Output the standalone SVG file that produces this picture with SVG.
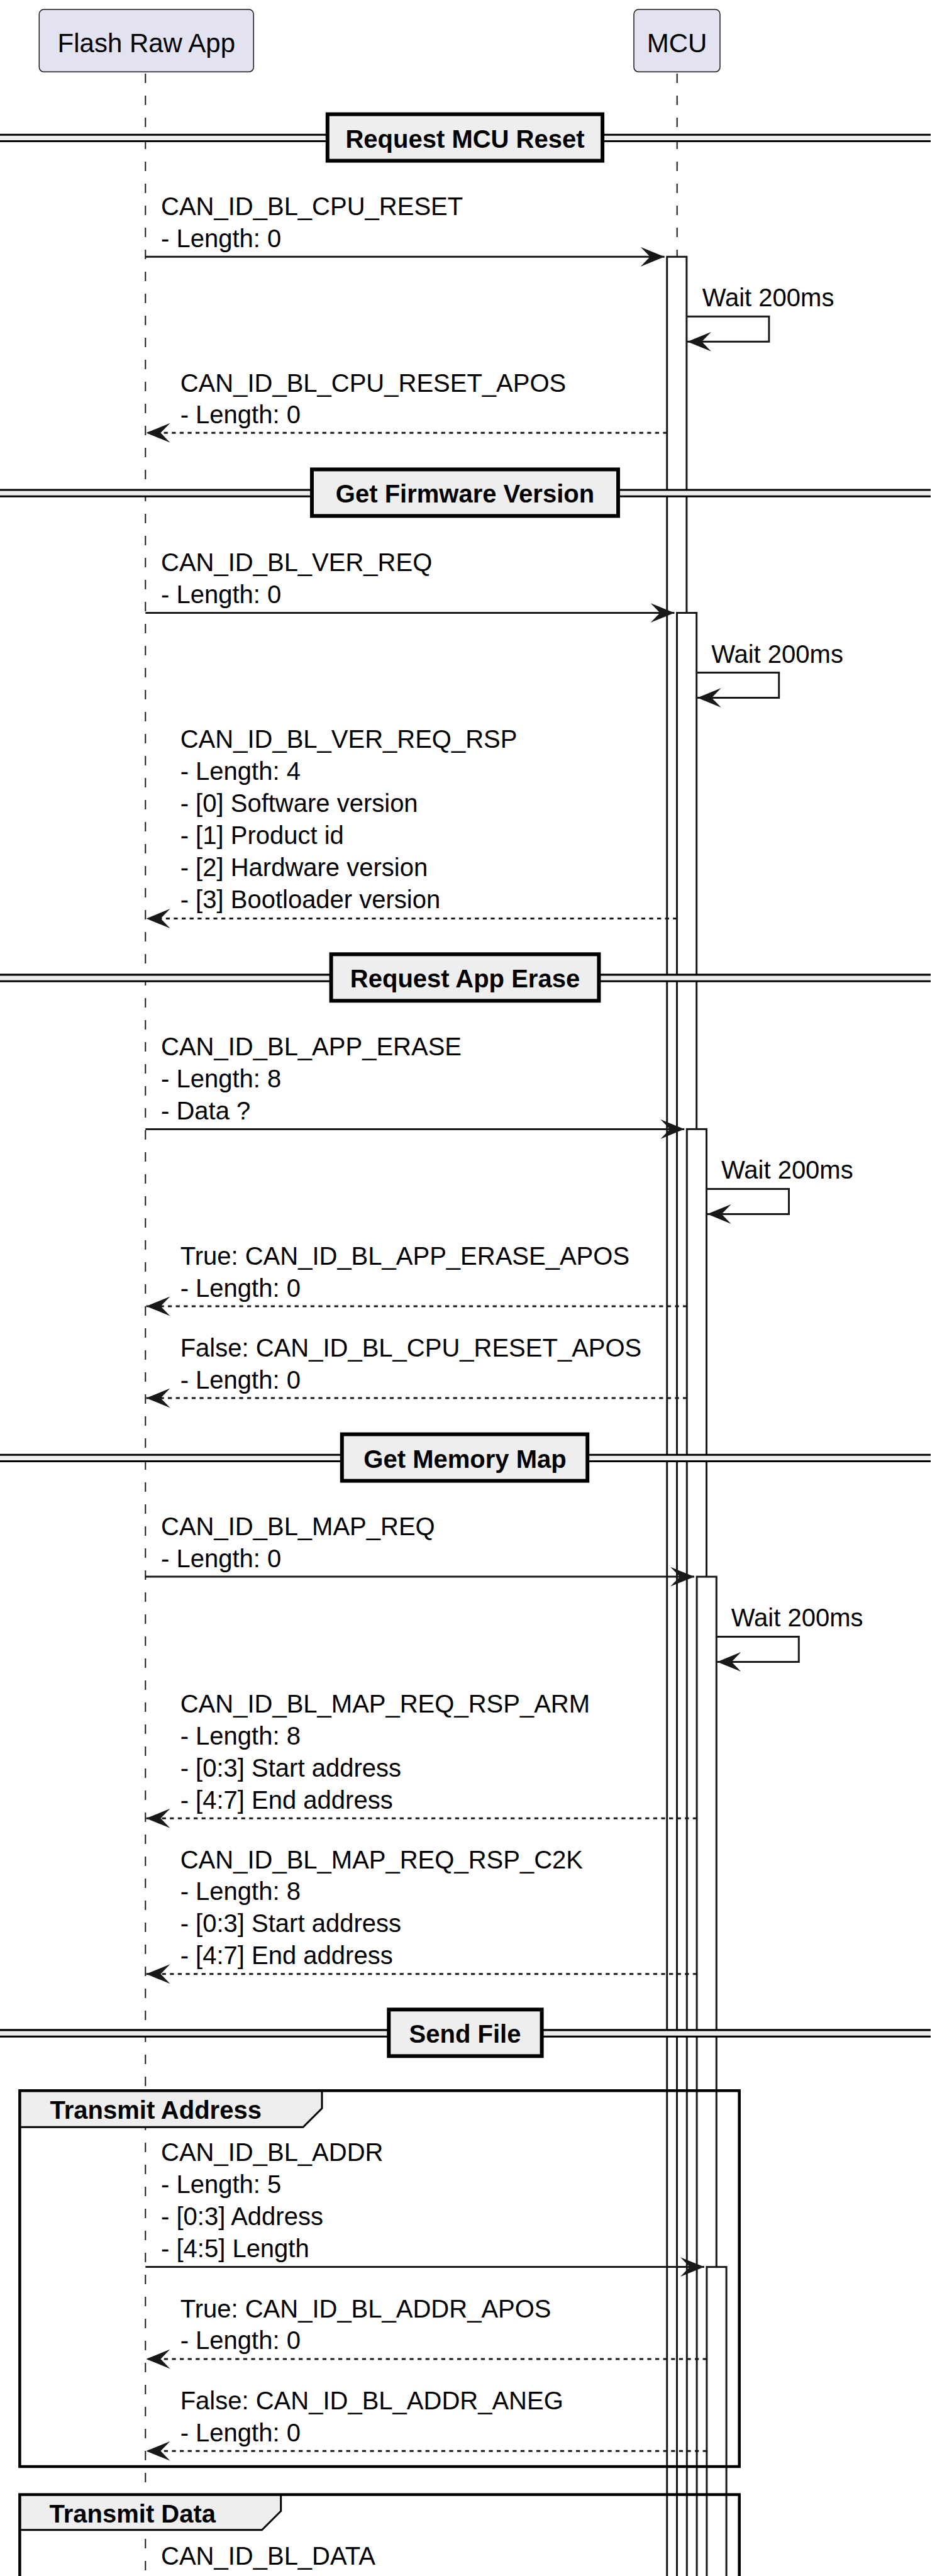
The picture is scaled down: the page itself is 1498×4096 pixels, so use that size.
<svg xmlns="http://www.w3.org/2000/svg" width="1498" height="4096" viewBox="0 0 1498 4096">
<style>
text{font-family:"Liberation Sans",Arial,sans-serif;fill:#000000}
.pt{font-size:42px}
.msg{font-size:40px}
.hd{font-size:40px;font-weight:bold}
.life{stroke:#181818;stroke-width:2;stroke-dasharray:15 20;fill:none}
.part{fill:#E2E2F0;stroke:#181818;stroke-width:1.5}
.act{fill:#FFFFFF;stroke:#181818;stroke-width:3}
.band{fill:#EEEEEE;stroke:none}
.dl{stroke:#000000;stroke-width:3.1}
.dbox{fill:#EEEEEE;stroke:#000000;stroke-width:6}
.frame{fill:none;stroke:#000000;stroke-width:4.5}
.tab{fill:#EEEEEE;stroke:#000000;stroke-width:3}
.sync{stroke:#181818;stroke-width:3;fill:none;marker-end:url(#ah)}
.ret{stroke:#181818;stroke-width:3;fill:none;stroke-dasharray:6.3 6.3;marker-end:url(#ah)}
</style>
<defs>
<marker id="ah" viewBox="0 0 38 31" refX="38" refY="15.5" markerWidth="38" markerHeight="31" markerUnits="userSpaceOnUse" orient="auto">
<path d="M38,15.5 L0,0 L15,15.5 L0,31 Z" fill="#181818"/>
</marker>
</defs>
<rect x="0" y="0" width="1498" height="4096" fill="#FFFFFF"/>

<g id="lifelines">
<line class="life" x1="231.3" y1="117" x2="231.3" y2="4096"/>
<line class="life" x1="1076.7" y1="117" x2="1076.7" y2="4096"/>
</g>

<g id="participant-flash">
<rect class="part" x="62.3" y="15" width="341" height="99.3" rx="7.5"/>
<text class="pt" x="232.8" y="82.7" text-anchor="middle">Flash Raw App</text>
</g>
<g id="participant-mcu">
<rect class="part" x="1008" y="15" width="137" height="99.3" rx="7.5"/>
<text class="pt" x="1076.5" y="82.7" text-anchor="middle">MCU</text>
</g>

<g id="activations">
<rect class="act" x="1060.7" y="408.3" width="31.2" height="3720"/>
<rect class="act" x="1076.5" y="974.5" width="31.2" height="3160"/>
<rect class="act" x="1092.3" y="1795.4" width="31.2" height="2340"/>
<rect class="act" x="1108.1" y="2507.1" width="31.2" height="1630"/>
<rect class="act" x="1123.9" y="3604.6" width="31.2" height="530"/>
</g>

<g id="divider-reset">
<rect class="band" x="0" y="214.2" width="1480" height="10.3"/>
<line class="dl" x1="0" y1="214.2" x2="1480" y2="214.2"/>
<line class="dl" x1="0" y1="224.5" x2="1480" y2="224.5"/>
<rect class="dbox" x="520.8" y="181.6" width="437.3" height="74"/>
<text class="hd" x="739.5" y="234.6" text-anchor="middle">Request MCU Reset</text>
</g>
<g id="divider-version">
<rect class="band" x="0" y="779" width="1480" height="10.3"/>
<line class="dl" x1="0" y1="779" x2="1480" y2="779"/>
<line class="dl" x1="0" y1="789.3" x2="1480" y2="789.3"/>
<rect class="dbox" x="496" y="746.4" width="487" height="74"/>
<text class="hd" x="739.5" y="799.4" text-anchor="middle">Get Firmware Version</text>
</g>
<g id="divider-erase">
<rect class="band" x="0" y="1549.9" width="1480" height="10.3"/>
<line class="dl" x1="0" y1="1549.9" x2="1480" y2="1549.9"/>
<line class="dl" x1="0" y1="1560.2" x2="1480" y2="1560.2"/>
<rect class="dbox" x="526.6" y="1517.3" width="425.8" height="74"/>
<text class="hd" x="739.5" y="1570.3" text-anchor="middle">Request App Erase</text>
</g>
<g id="divider-map">
<rect class="band" x="0" y="2313.2" width="1480" height="10.3"/>
<line class="dl" x1="0" y1="2313.2" x2="1480" y2="2313.2"/>
<line class="dl" x1="0" y1="2323.5" x2="1480" y2="2323.5"/>
<rect class="dbox" x="543.8" y="2280.6" width="390.4" height="74"/>
<text class="hd" x="739.5" y="2333.6" text-anchor="middle">Get Memory Map</text>
</g>
<g id="divider-send">
<rect class="band" x="0" y="3227.9" width="1480" height="10.3"/>
<line class="dl" x1="0" y1="3227.9" x2="1480" y2="3227.9"/>
<line class="dl" x1="0" y1="3238.2" x2="1480" y2="3238.2"/>
<rect class="dbox" x="618.3" y="3195.3" width="243.3" height="74"/>
<text class="hd" x="739.5" y="3248.3" text-anchor="middle">Send File</text>
</g>

<g id="group-transmit-address">
<path class="tab" d="M31.4,3324.3 H512 V3352.3 L482,3382.3 H31.4 Z"/>
<rect class="frame" x="31.4" y="3324.3" width="1144.3" height="597.7"/>
<text class="hd" x="79.5" y="3369">Transmit Address</text>
</g>
<g id="group-transmit-data">
<path class="tab" d="M31.4,3966.5 H446.7 V3992.7 L416.5,4022.7 H31.4 Z"/>
<rect class="frame" x="31.4" y="3966.5" width="1144.3" height="200"/>
<text class="hd" x="78.5" y="4011">Transmit Data</text>
</g>

<g id="connectors">
<!-- Request MCU Reset -->
<line class="sync" x1="231.3" y1="408.3" x2="1056.7" y2="408.3"/>
<text class="msg" x="256" y="341.7">CAN_ID_BL_CPU_RESET</text>
<text class="msg" x="256" y="392.7">- Length: 0</text>
<path class="sync" d="M1091.9,503.3 H1222.9 V543.3 H1093"/>
<text class="msg" x="1116.7" y="487.3">Wait 200ms</text>
<line class="ret" x1="1060.7" y1="688.3" x2="232.5" y2="688.3"/>
<text class="msg" x="286.7" y="622.7">CAN_ID_BL_CPU_RESET_APOS</text>
<text class="msg" x="286.7" y="672.7">- Length: 0</text>

<!-- Get Firmware Version -->
<line class="sync" x1="231.3" y1="974.5" x2="1072.5" y2="974.5"/>
<text class="msg" x="256" y="907.6">CAN_ID_BL_VER_REQ</text>
<text class="msg" x="256" y="958.6">- Length: 0</text>
<path class="sync" d="M1107.7,1069.5 H1238.7 V1109.5 H1108.8"/>
<text class="msg" x="1131.2" y="1053.5">Wait 200ms</text>
<line class="ret" x1="1076.5" y1="1460.6" x2="232.5" y2="1460.6"/>
<text class="msg" x="286.7" y="1189.4">CAN_ID_BL_VER_REQ_RSP</text>
<text class="msg" x="286.7" y="1240.3">- Length: 4</text>
<text class="msg" x="286.7" y="1291.2">- [0] Software version</text>
<text class="msg" x="286.7" y="1342.1">- [1] Product id</text>
<text class="msg" x="286.7" y="1393.0">- [2] Hardware version</text>
<text class="msg" x="286.7" y="1443.9">- [3] Bootloader version</text>

<!-- Request App Erase -->
<line class="sync" x1="231.3" y1="1795.4" x2="1088.3" y2="1795.4"/>
<text class="msg" x="256" y="1677.9">CAN_ID_BL_APP_ERASE</text>
<text class="msg" x="256" y="1728.8">- Length: 8</text>
<text class="msg" x="256" y="1779.7">- Data ?</text>
<path class="sync" d="M1123.5,1890.4 H1254.5 V1930.4 H1124.6"/>
<text class="msg" x="1147" y="1874.4">Wait 200ms</text>
<line class="ret" x1="1092.3" y1="2077" x2="232.5" y2="2077"/>
<text class="msg" x="286.7" y="2010.6">True: CAN_ID_BL_APP_ERASE_APOS</text>
<text class="msg" x="286.7" y="2061.5">- Length: 0</text>
<line class="ret" x1="1092.3" y1="2223" x2="232.5" y2="2223"/>
<text class="msg" x="286.7" y="2156.6">False: CAN_ID_BL_CPU_RESET_APOS</text>
<text class="msg" x="286.7" y="2207.5">- Length: 0</text>

<!-- Get Memory Map -->
<line class="sync" x1="231.3" y1="2507.1" x2="1104.1" y2="2507.1"/>
<text class="msg" x="256" y="2440.6">CAN_ID_BL_MAP_REQ</text>
<text class="msg" x="256" y="2491.5">- Length: 0</text>
<path class="sync" d="M1139.3,2602.4 H1270.3 V2642.4 H1140.4"/>
<text class="msg" x="1162.8" y="2586.2">Wait 200ms</text>
<line class="ret" x1="1108.1" y1="2891.3" x2="232.5" y2="2891.3"/>
<text class="msg" x="286.7" y="2723">CAN_ID_BL_MAP_REQ_RSP_ARM</text>
<text class="msg" x="286.7" y="2773.9">- Length: 8</text>
<text class="msg" x="286.7" y="2824.8">- [0:3] Start address</text>
<text class="msg" x="286.7" y="2875.7">- [4:7] End address</text>
<line class="ret" x1="1108.1" y1="3138.8" x2="232.5" y2="3138.8"/>
<text class="msg" x="286.7" y="2970.5">CAN_ID_BL_MAP_REQ_RSP_C2K</text>
<text class="msg" x="286.7" y="3021.4">- Length: 8</text>
<text class="msg" x="286.7" y="3072.3">- [0:3] Start address</text>
<text class="msg" x="286.7" y="3123.2">- [4:7] End address</text>

<!-- Send File / Transmit Address -->
<line class="sync" x1="231.3" y1="3604.6" x2="1119.9" y2="3604.6"/>
<text class="msg" x="256" y="3436.3">CAN_ID_BL_ADDR</text>
<text class="msg" x="256" y="3487.2">- Length: 5</text>
<text class="msg" x="256" y="3538.1">- [0:3] Address</text>
<text class="msg" x="256" y="3589">- [4:5] Length</text>
<line class="ret" x1="1123.9" y1="3751" x2="232.5" y2="3751"/>
<text class="msg" x="286.7" y="3684.5">True: CAN_ID_BL_ADDR_APOS</text>
<text class="msg" x="286.7" y="3735.4">- Length: 0</text>
<line class="ret" x1="1123.9" y1="3897.3" x2="232.5" y2="3897.3"/>
<text class="msg" x="286.7" y="3830.8">False: CAN_ID_BL_ADDR_ANEG</text>
<text class="msg" x="286.7" y="3881.7">- Length: 0</text>

<!-- Transmit Data -->
<text class="msg" x="256" y="4077.5">CAN_ID_BL_DATA</text>
</g>
</svg>
